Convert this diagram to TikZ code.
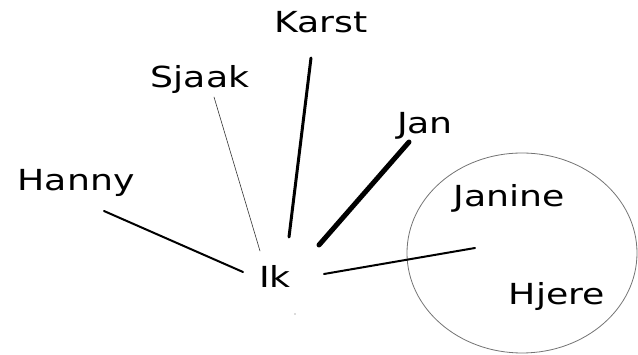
\documentclass[tikz,border=0pt]{standalone}
\usepackage{fontspec}
\setmainfont{DejaVu Sans}
\usetikzlibrary{shapes.geometric}
\newcommand{\hw}[1]{\scalebox{1.25}[1]{#1}}
\tikzset{
  person/.style={font=\fontsize{29}{34}\selectfont, anchor=base, inner sep=0pt, text=black},
  tie/.style={draw=black, line cap=round},
}
\begin{document}
\begin{tikzpicture}[x=1pt,y=-1pt]
\useasboundingbox (0,0) rectangle (638,355);
\node[person] (Karst) at (321,33) {\hw{Karst}};
\node[person] (Sjaak) at (200,88) {\hw{Sjaak}};
\node[person] (Jan) at (425,134) {\hw{Jan}};
\node[person] (Hanny) at (76,191) {\hw{Hanny}};
\node[person] (Ik) at (275,288) {\hw{Ik}};
\node[draw=black!55, line width=0.8pt, ellipse, minimum width=230pt, minimum height=200pt, inner sep=0pt] (grp) at (522,253) {};
\node[person] (Janine) at (509,207) {\hw{Janine}};
\node[person] (Hjere) at (557,305) {\hw{Hjere}};
\coordinate (ikK) at (289,237); \coordinate (kK) at (311,58);
\coordinate (ikS) at (260,251); \coordinate (sS) at (214,97);
\coordinate (ikJ) at (319,245); \coordinate (jJ) at (409,142);
\coordinate (ikH) at (243,272); \coordinate (hH) at (104,211);
\coordinate (ikG) at (324,274); \coordinate (gG) at (475,248);
\draw[tie, line width=3pt] (ikK) -- (kK);
\draw[tie, line width=0.6pt, draw=black!80] (ikS) -- (sS);
\draw[tie, line width=5pt] (ikJ) -- (jJ);
\draw[tie, line width=2pt] (ikH) -- (hH);
\draw[tie, line width=2pt] (ikG) -- (gG);
\fill[black!60] (295,314) circle (0.7pt);
\end{tikzpicture}
\end{document}
